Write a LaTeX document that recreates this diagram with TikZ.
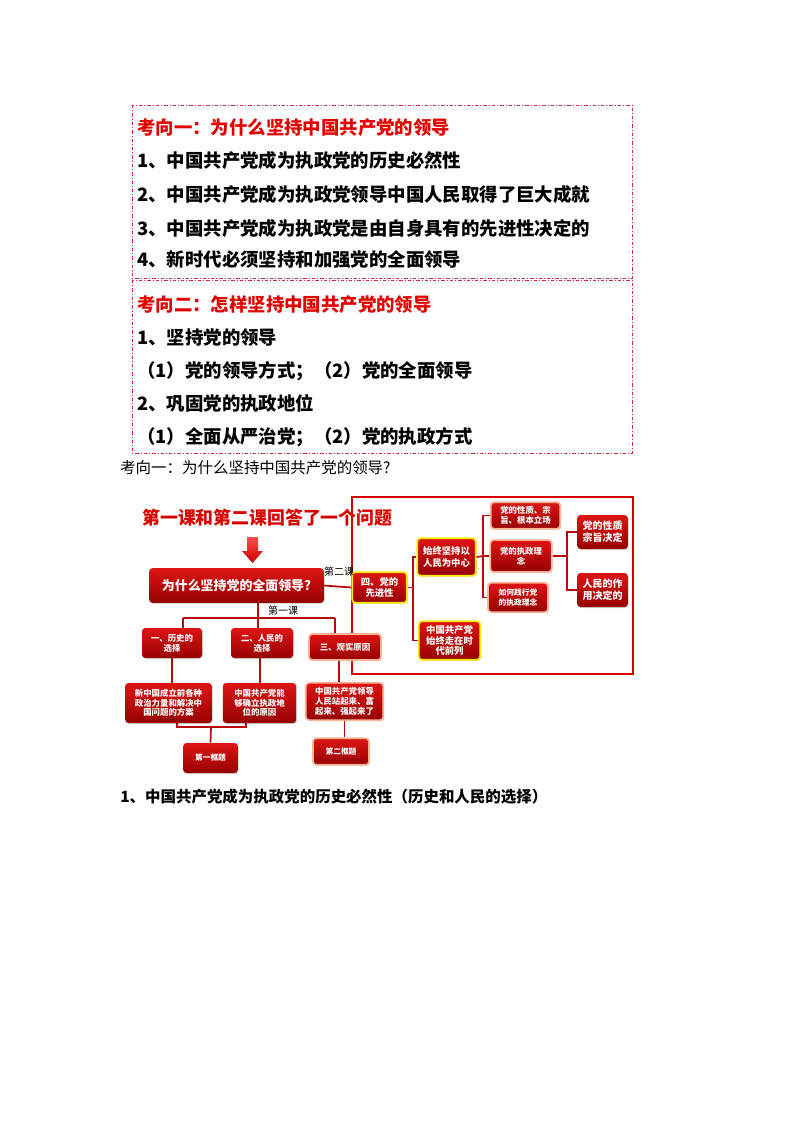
\documentclass[tikz,border=0pt]{standalone}
\usepackage{fontspec}
\setmainfont{Noto Sans CJK SC}
\usetikzlibrary{shadows}
\definecolor{boxred}{RGB}{222,20,20}
\definecolor{boxdark}{RGB}{150,0,0}
\definecolor{linered}{RGB}{185,10,10}
\definecolor{peach}{RGB}{250,180,150}
\definecolor{ylw}{RGB}{255,235,0}
\definecolor{dashred}{RGB}{215,40,60}
\tikzset{
  rbox/.style={rounded corners=2.5pt, top color=boxred, bottom color=boxdark, text=white, align=center, inner sep=1pt, font=\bfseries\fontsize{6.3}{7.3}\selectfont, drop shadow={opacity=0.3,shadow xshift=0.8pt,shadow yshift=-0.8pt}},
  yb/.style={draw=ylw, line width=1.3pt},
  pb/.style={draw=peach, line width=1.3pt},
  conn/.style={draw=linered, line width=1.3pt},
  dbox/.style={draw=dashred, line width=0.6pt, dash pattern=on 2.5pt off 1.5pt on 0.8pt off 1.5pt},
  big/.style={anchor=west, inner sep=0pt, font=\bfseries\fontsize{13.8}{15}\selectfont},
}
\begin{document}
\begin{tikzpicture}[x=0.75pt,y=-0.75pt]
\useasboundingbox[fill=white] (0,0) rectangle (800,1132);
% top boxes
\draw[dbox] (132,105) rectangle (632,278);
\draw[dbox] (132,280) rectangle (632,453);
\node[big,text=red!90!black] (h1) at (137,128) {考向一：为什么坚持中国共产党的领导};
\node[big] (l1) at (137,160) {1、中国共产党成为执政党的历史必然性};
\node[big] (l2) at (137,194) {2、中国共产党成为执政党领导中国人民取得了巨大成就};
\node[big] (l3) at (137,228) {3、中国共产党成为执政党是由自身具有的先进性决定的};
\node[big] (l4) at (137,260) {4、新时代必须坚持和加强党的全面领导};
\node[big,text=red!90!black] (h2) at (137,305) {考向二：怎样坚持中国共产党的领导};
\node[big] (m1) at (137,338) {1、坚持党的领导};
\node[big] (m2) at (137,371) {（1）党的领导方式；（2）党的全面领导};
\node[big] (m3) at (137,403) {2、巩固党的执政地位};
\node[big] (m4) at (137,437) {（1）全面从严治党；（2）党的执政方式};
\node[anchor=west,inner sep=0pt,font=\fontsize{11.6}{13}\selectfont] (cap) at (120,468) {考向一：为什么坚持中国共产党的领导?};
\node[anchor=west,inner sep=0pt,font=\bfseries\fontsize{11.6}{13}\selectfont] (bot) at (120,797) {1、中国共产党成为执政党的历史必然性（历史和人民的选择）};
% diagram
\node[anchor=west,inner sep=0pt,text=red!85!black,font=\bfseries\fontsize{13.4}{15}\selectfont] (ttl) at (142,518) {第一课和第二课回答了一个问题};
\shade[top color=red!70!white,bottom color=red!80!black] (247,537) -- (258,537) -- (258,551) -- (263,551) -- (252.5,563) -- (242,551) -- (247,551) -- cycle;
\draw[draw=red!85!black, line width=1.3pt] (352,497) rectangle (633,674);
\node[rbox,minimum width=131pt,minimum height=26pt,font=\bfseries\fontsize{9.7}{11}\selectfont] (main) at (236.5,585.5) {为什么坚持党的全面领导?};
\node[rbox,yb,minimum width=41pt,minimum height=23pt,font=\bfseries\fontsize{7}{8.5}\selectfont] (si) at (379.5,587.5) {四、党的\\先进性};
\node[rbox,yb,minimum width=44pt,minimum height=28pt,font=\bfseries\fontsize{7}{8.5}\selectfont] (sz) at (446.5,557) {始终坚持以\\人民为中心};
\node[rbox,yb,minimum width=46pt,minimum height=29pt,font=\bfseries\fontsize{7}{8}\selectfont] (zq) at (449.5,640.5) {中国共产党\\始终走在时\\代前列};
\node[rbox,pb,minimum width=52pt,minimum height=20pt] (xz) at (525.5,515.5) {党的性质、宗\\旨、根本立场};
\node[rbox,pb,minimum width=46pt,minimum height=24pt] (ln) at (521,556) {党的执政理\\念};
\node[rbox,pb,minimum width=45pt,minimum height=22pt,font=\bfseries\fontsize{5.8}{7}\selectfont] (jx) at (518,597.5) {如何践行党\\的执政理念};
\node[rbox,minimum width=38pt,minimum height=25.5pt,font=\bfseries\fontsize{7.5}{9}\selectfont] (jd) at (602.5,532) {党的性质\\宗旨决定};
\node[rbox,minimum width=38pt,minimum height=25.5pt,font=\bfseries\fontsize{7.5}{9}\selectfont] (zy) at (602.5,590) {人民的作\\用决定的};
\node[rbox,minimum width=45pt,minimum height=22.5pt] (ls) at (172,643) {一、历史的\\选择};
\node[rbox,minimum width=46.5pt,minimum height=22.5pt] (rm) at (262,643) {二、人民的\\选择};
\node[rbox,pb,minimum width=54pt,minimum height=19.5pt] (xs) at (345,647) {三、观实原因};
\node[rbox,minimum width=65pt,minimum height=30pt] (xzg) at (168.5,703) {新中国成立前各种\\政治力量和解决中\\国问题的方案};
\node[rbox,minimum width=55pt,minimum height=30pt] (ng) at (259.5,703) {中国共产党能\\够确立执政地\\位的原因};
\node[rbox,pb,minimum width=58pt,minimum height=28pt] (ld) at (344.5,701.5) {中国共产党领导\\人民站起来、富\\起来、强起来了};
\node[rbox,minimum width=41pt,minimum height=22.5pt,font=\bfseries\fontsize{5.8}{7}\selectfont] (k1) at (210.5,758) {第一框题};
\node[rbox,pb,minimum width=42pt,minimum height=20pt,font=\bfseries\fontsize{5.8}{7}\selectfont] (k2) at (341,751.5) {第二框题};
\node[inner sep=0pt,font=\fontsize{7.5}{9}\selectfont] (lb2) at (339,572) {第二课};
\node[inner sep=0pt,font=\fontsize{7.5}{9}\selectfont] (lb1) at (283,611) {第一课};
% connectors
\coordinate (j1) at (258,618);
\coordinate (dl) at (183,618);
\coordinate (dr) at (335,618);
\coordinate (j2) at (211,727);
\coordinate (ja) at (177,727);
\coordinate (jb) at (246,727);
\coordinate (b1) at (413,587.5);
\coordinate (b2) at (483,556);
\coordinate (b3) at (567,556);
\draw[conn] (main.south -| j1) -- (j1);
\draw[conn] (dl) -- (dr);
\draw[conn] (dl) -- (dl |- ls.north);
\draw[conn] (dr) -- (dr |- xs.north);
\draw[conn] (j1) -- (j1 |- rm.north);
\draw[conn] (ls.south) -- (ls.south |- xzg.north);
\draw[conn] (ng.north -| 260,0) -- (rm.south -| 260,0);
\draw[conn] (xs.south -| 339,0) -- (ld.north -| 339,0);
\draw[conn] (ja |- xzg.south) -- (ja) -- (jb) -- (jb |- ng.south);
\draw[conn] (j2) -- (k1.north);
\draw[conn] (ld.south) -- (ld.south |- k2.north);
\draw[conn] (main.east) -- (si.west);
\draw[conn] (si.east) -- (b1);
\draw[conn] (sz.west) -| (b1) |- (zq.west);
\draw[conn] (sz.east) -- (b2);
\draw[conn] (xz.west) -| (b2) |- (jx.west);
\draw[conn] (ln.west) -- (b2);
\draw[conn] (ln.east) -- (b3);
\draw[conn] (jd.west) -| (b3) |- (zy.west);
\end{tikzpicture}
\end{document}
